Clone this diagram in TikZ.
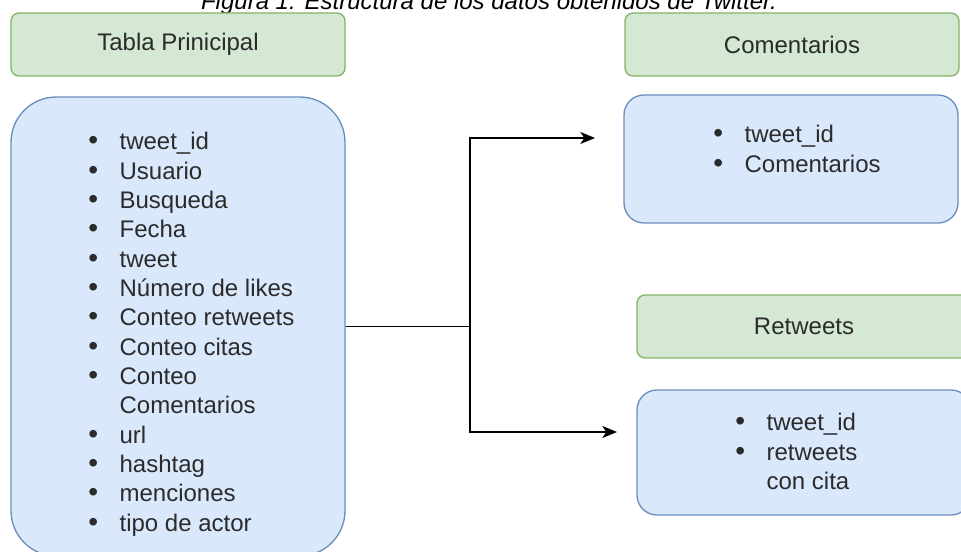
\documentclass[tikz,border=0pt]{standalone}
\usepackage{fontspec}
\setmainfont{Liberation Sans}
\usetikzlibrary{arrows.meta,positioning}
\definecolor{hdrfill}{HTML}{D5E8D4}
\definecolor{hdrline}{HTML}{82B366}
\definecolor{tabfill}{HTML}{DAE8FC}
\definecolor{tabline}{HTML}{6C8EBF}
\definecolor{txtgray}{HTML}{2B2B2B}
\newcommand{\bul}{\makebox[23.5pt][l]{{\fontsize{21}{22}\selectfont\textbullet}}}
\newcommand{\nobul}{\hspace*{23.5pt}}

\begin{document}
\begin{tikzpicture}[x=0.75pt,y=-0.75pt,
    hdr/.style={draw=hdrline, fill=hdrfill, line width=1pt, rounded corners=6pt,
      minimum width=250.5pt, minimum height=47.25pt, text=txtgray,
      font=\fontsize{18}{22}\selectfont},
    tab/.style={draw=tabline, fill=tabfill, line width=1pt, minimum width=250.5pt},
    lst/.style={anchor=base west, inner sep=0pt, text=txtgray,
      font=\fontsize{18}{22}\selectfont},
    conn/.style={line width=1.4pt, -{Stealth[length=11pt,width=9pt,inset=3pt]}}]
      \useasboundingbox (0,0) rectangle (961,552);
      \clip (0,0) rectangle (961,552);

      \node[anchor=base, font=\itshape\fontsize{18}{22}\selectfont] (title) at (489,10)
        {Figura 1: Estructura de los datos obtenidos de Twitter.};

      % tabla principal
      \node[hdr] (hmain) at (178,44.5) {Tabla Prinicipal};
      \node[tab, rounded corners=34pt, minimum height=344.25pt] (main) at (178,326.5) {};
      \node[lst] (lmain) at (88,150) {\begin{tabular}[t]{@{}l@{}}
          \bul tweet\_id\\
          \bul Usuario\\
          \bul Busqueda\\
          \bul Fecha\\
          \bul tweet\\
          \bul Número de likes\\
          \bul Conteo retweets\\
          \bul Conteo citas\\
          \bul Conteo\\
          \nobul Comentarios\\
          \bul url\\
          \bul hashtag\\
          \bul menciones\\
          \bul tipo de actor
        \end{tabular}};

      % comentarios
      \node[hdr] (hcom) at (792,44.5) {Comentarios};
      \node[tab, rounded corners=15pt, minimum height=96pt] (com) at (791,159) {};
      \node[lst] (lcom) at (713,143) {\begin{tabular}[t]{@{}l@{}}
          \bul tweet\_id\\
          \bul Comentarios
        \end{tabular}};

      % retweets
      \node[hdr] (hret) at (804,326.5) {Retweets};
      \node[tab, rounded corners=15pt, minimum height=93.75pt] (ret) at (804,452.5) {};
      \node[lst] (lret) at (735,431) {\begin{tabular}[t]{@{}l@{}}
          \bul tweet\_id\\
          \bul retweets\\
          \nobul con cita
        \end{tabular}};

      \coordinate (split) at (470,326.5);
      \coordinate (tipc) at (595,138);
      \coordinate (tipr) at (617,432);
      \draw[line width=1.4pt] (main.east) -- (split);
      \draw[conn] (split) |- (tipc);
      \draw[conn] (split) |- (tipr);
\end{tikzpicture}
\end{document}
